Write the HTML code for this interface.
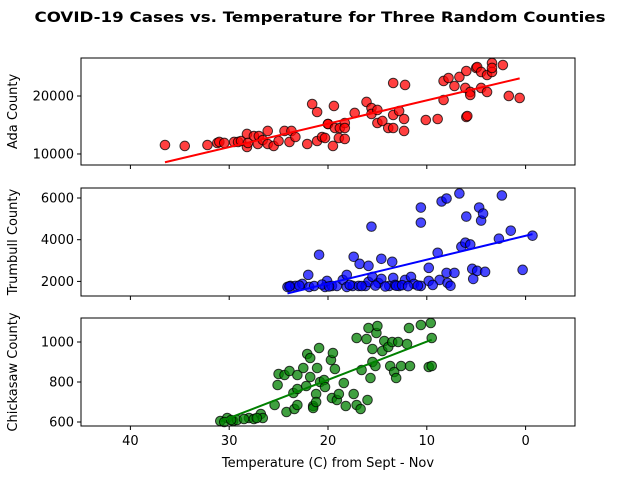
<!DOCTYPE html>
<html><head><meta charset="utf-8"><style>
body{margin:0;background:#fff}
svg text{font-family:"DejaVu Sans","Liberation Sans",sans-serif}
</style></head><body>
<svg id="chart" width="640" height="480" xmlns="http://www.w3.org/2000/svg">
<rect width="640" height="480" fill="#fff"/>
<text x="320" y="22" text-anchor="middle" font-size="14.5" font-weight="bold" textLength="571" lengthAdjust="spacingAndGlyphs">COVID-19 Cases vs. Temperature for Three Random Counties</text>
<text x="328" y="467" text-anchor="middle" font-size="13">Temperature (C) from Sept - Nov</text>
</svg>
<script>
const adaTemp=[36.5,34.5,32.2,31.2,31.0,30.5,29.5,29.1,28.8,28.2,28.2,28.1,27.5,27.1,27.0,26.6,26.1,26.1,25.5,25.0,24.4,23.9,23.7,23.3,22.1,21.6,21.1,21.1,20.6,20.0,20.3,20.0,19.5,19.4,19.3,18.9,18.8,18.3,18.3,18.3,17.3,16.1,15.6,15.6,15.0,15.0,14.5,13.9,13.4,13.4,13.4,12.8,12.3,12.3,12.2,10.1,8.9,8.3,8.3,7.8,7.2,6.7,6.1,6.0,6.0,5.9,5.6,5.6,5.0,4.9,4.5,4.5,3.9,3.9,3.4,3.4,3.4,2.3,1.7,0.6];
const adaCases=[11550,11380,11550,11900,12070,11900,12070,12070,12240,13450,11210,11900,13100,11720,13100,12410,13970,11720,11380,12240,13970,12070,13970,12930,11720,18620,17240,12240,12930,15170,12760,15170,11380,18280,14480,12760,14480,15340,12590,14480,17070,18970,17930,16900,17590,15340,15690,14480,14480,16720,22240,17410,16030,13970,21900,15860,16030,19310,22590,23100,21720,23280,21380,24310,16380,16550,20690,20170,24830,25000,21380,24140,20690,23620,25690,24140,24830,25340,20000,19660];
const trumTemp=[24.1,23.8,23.3,22.6,22.0,21.9,20.9,20.3,20.1,19.6,19.1,18.5,18.1,18.1,17.4,17.5,16.8,16.9,16.2,15.9,15.9,15.6,15.5,14.9,14.6,14.6,13.8,13.5,13.4,13.2,12.8,12.2,11.6,11.3,10.6,10.6,10.6,9.8,9.8,8.9,8.7,8.5,8.0,8.0,7.9,7.2,6.7,6.5,6.1,6.0,5.6,5.4,5.3,4.9,4.7,4.5,4.3,4.1,2.7,2.4,1.5,0.3,-0.7,23.9,22.9,21.4,20.6,19.9,17.8,16.6,15.2,14.2,13.1,12.5,11.9,10.9,9.4,7.6];
const trumCases=[1735,1783,1783,1880,2313,1735,3277,1735,2024,1783,1783,2072,2313,1735,3181,1783,2843,1783,1783,2747,1976,4627,2217,1927,3084,2120,1783,2940,2168,1831,1783,2072,2217,1880,5542,4819,1783,2650,2024,3373,2072,5832,5976,2409,1927,2409,6217,3663,3855,5109,3771,2602,2120,2506,5542,4916,5253,2458,4048,6121,4434,2554,4193,1760,1800,1780,1850,1760,1830,1780,1800,1760,1790,1820,1770,1800,1830,1790];
const chiTemp=[30.9,30.2,29.6,29.2,28.0,27.5,26.8,26.6,25.4,25.1,25.0,24.4,24.2,23.9,23.5,23.4,23.1,23.1,23.1,22.5,22.2,22.1,21.8,21.8,21.5,21.5,21.2,21.1,21.2,20.9,20.8,20.4,20.3,19.7,19.5,19.6,19.3,19.1,18.9,18.4,18.2,17.4,17.1,16.7,17.1,16.6,16.1,16.0,15.9,15.7,15.5,15.5,15.2,15.1,15.0,14.5,14.3,13.9,13.7,13.5,13.3,13.1,12.9,12.6,12.0,11.8,11.7,10.6,9.8,9.5,9.5,9.6,30.5,29.8,28.5,27.2];
const chiCases=[605,620,605,610,620,615,640,620,685,785,840,835,650,855,745,665,685,835,765,870,780,940,825,920,680,670,740,870,700,970,800,810,775,910,945,720,865,710,740,795,680,740,685,665,1020,860,1015,710,1070,820,965,900,880,1045,1080,955,1005,975,880,1000,850,820,1000,880,990,1070,880,1085,875,880,1020,1095,600,610,615,620];

const svg=document.getElementById('chart');
const NS='http://www.w3.org/2000/svg';
function mk(tag,attrs,parent){const e=document.createElementNS(NS,tag);for(const k in attrs)e.setAttribute(k,attrs[k]);(parent||svg).appendChild(e);return e;}
const L=81,R=575;
function xs(v){return L+(45-v)/50*(R-L);}
const panels=[
 {xv:adaTemp,yv:adaCases,top:58,bot:165,ymin:8100,ymax:26550,ticks:[10000,20000],color:'#ff0000',fill:'rgba(255,0,0,0.75)',label:'Ada County',name:'ada'},
 {xv:trumTemp,yv:trumCases,top:188,bot:296,ymin:1300,ymax:6480,ticks:[2000,4000,6000],color:'#0000ff',fill:'rgba(0,0,255,0.72)',label:'Trumbull County',name:'trumbull'},
 {xv:chiTemp,yv:chiCases,top:318,bot:426,ymin:580,ymax:1120,ticks:[600,800,1000],color:'#008000',fill:'rgba(0,128,0,0.75)',label:'Chickasaw County',name:'chickasaw'}
];
const xticks=[40,30,20,10,0];
panels.forEach((p,i)=>{
 const ys=v=>p.bot-(v-p.ymin)/(p.ymax-p.ymin)*(p.bot-p.top);
 const g=mk('g',{});
 
 
 for(let k=0;k<p.xv.length;k++){
  const c=mk('circle',{cx:xs(p.xv[k]),cy:ys(p.yv[k]),r:4.8,fill:p.fill,stroke:'#000','stroke-width':1,'stroke-opacity':0.75},g);
  
  
 }
 const n=p.xv.length;let sx=0,sy=0,sxx=0,sxy=0,mn=1e9,mx=-1e9;
 for(let k=0;k<n;k++){sx+=p.xv[k];sy+=p.yv[k];sxx+=p.xv[k]*p.xv[k];sxy+=p.xv[k]*p.yv[k];mn=Math.min(mn,p.xv[k]);mx=Math.max(mx,p.xv[k]);}
 const b=(n*sxy-sx*sy)/(n*sxx-sx*sx),a=(sy-b*sx)/n;
 const ln=mk('line',{x1:xs(mn),y1:ys(a+b*mn),x2:xs(mx),y2:ys(a+b*mx),stroke:p.color,'stroke-width':2},g);
 
 
 const fr=mk('rect',{x:L,y:p.top,width:R-L,height:p.bot-p.top,fill:'none',stroke:'#000','stroke-width':1},g);
 
 
 xticks.forEach(t=>{
  mk('line',{x1:xs(t),x2:xs(t),y1:p.bot,y2:p.bot+4,stroke:'#000'},g);
  if(i===2){const tx=mk('text',{x:xs(t),y:p.bot+19,'text-anchor':'middle','font-size':13},g);tx.textContent=t;
   
   }
 });
 p.ticks.forEach(t=>{
  mk('line',{x1:L-4,x2:L,y1:ys(t),y2:ys(t),stroke:'#000'},g);
  const tx=mk('text',{x:L-7,y:ys(t)+4.5,'text-anchor':'end','font-size':13},g);tx.textContent=t;
  
  
 });
 const cy=(p.top+p.bot)/2;
 const yl=mk('text',{x:17,y:cy,'text-anchor':'middle','font-size':13,transform:'rotate(-90 17 '+cy+')'},g);
 yl.textContent=p.label;
 
 
});
</script>
</body></html>
